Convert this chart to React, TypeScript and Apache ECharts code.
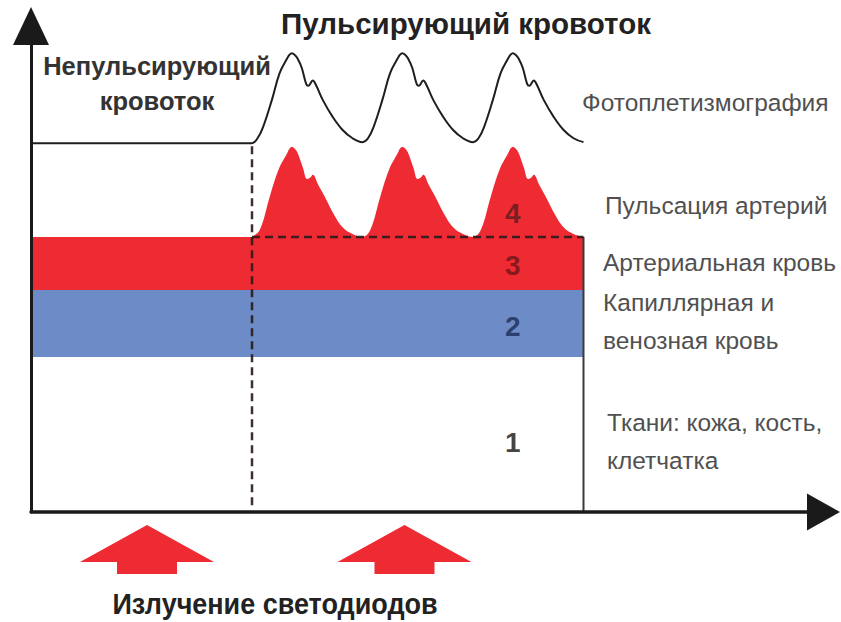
import React, { useEffect, useRef } from "react";
import * as echarts from "echarts";

// ---- coordinate frame (x: heart cycles from the y axis, y: relative absorption 0..100)
const X_MAX = 7.172;
const Y_MAX = 100;
const PULSE_START = 2;
const BOX_END = 5;

// photoplethysmogram (top black curve)
const ppgPoints: [number, number][] = [
  [0, 75.9], [2.0, 75.9],
  [2.05, 76.9], [2.10, 79.2], [2.18, 84.8], [2.25, 90.3], [2.32, 93.4], [2.34, 94.1], [2.36, 94.4], [2.385, 94.1], [2.41, 93.4], [2.45, 91.4],
  [2.49, 88.1], [2.51, 87.7], [2.55, 88.8], [2.58, 87.8], [2.64, 84.8], [2.73, 81.3], [2.82, 78.6], [2.91, 76.9], [3.0, 76.1],
  [3.05, 76.9], [3.10, 79.2], [3.18, 84.8], [3.25, 90.3], [3.32, 93.4], [3.34, 94.1], [3.36, 94.4], [3.385, 94.1], [3.41, 93.4], [3.45, 91.4],
  [3.49, 88.1], [3.51, 87.7], [3.55, 88.8], [3.58, 87.8], [3.64, 84.8], [3.73, 81.3], [3.82, 78.6], [3.91, 76.9], [4.0, 76.1],
  [4.05, 76.9], [4.10, 79.2], [4.18, 84.8], [4.25, 90.3], [4.32, 93.4], [4.34, 94.1], [4.36, 94.4], [4.385, 94.1], [4.41, 93.4], [4.45, 91.4],
  [4.49, 88.1], [4.51, 87.7], [4.55, 88.8], [4.58, 87.8], [4.64, 84.8], [4.73, 81.3], [4.82, 78.6], [4.91, 76.9], [5.0, 76.1],
];

// arterial pulsation (red peaks, layer 4)
const pulsePoints: [number, number][] = [
  [2.0, 56.6], [2.07, 58.0], [2.16, 64.8], [2.24, 70.4], [2.32, 73.9], [2.34, 74.8], [2.36, 75.1], [2.385, 74.8], [2.41, 74.0], [2.46, 70.9],
  [2.50, 68.5], [2.53, 68.9], [2.55, 69.4], [2.60, 67.3], [2.66, 64.8], [2.73, 61.7], [2.82, 58.6], [2.91, 57.2], [3.0, 56.6],
  [3.07, 58.0], [3.16, 64.8], [3.24, 70.4], [3.32, 73.9], [3.34, 74.8], [3.36, 75.1], [3.385, 74.8], [3.41, 74.0], [3.46, 70.9],
  [3.50, 68.5], [3.53, 68.9], [3.55, 69.4], [3.60, 67.3], [3.66, 64.8], [3.73, 61.7], [3.82, 58.6], [3.91, 57.2], [4.0, 56.6],
  [4.07, 58.0], [4.16, 64.8], [4.24, 70.4], [4.32, 73.9], [4.34, 74.8], [4.36, 75.1], [4.385, 74.8], [4.41, 74.0], [4.46, 70.9],
  [4.50, 68.5], [4.53, 68.9], [4.55, 69.4], [4.60, 67.3], [4.66, 64.8], [4.73, 61.7], [4.82, 58.6], [4.91, 57.2], [5.0, 56.6],
];

// static layers: tissue, capillary+venous blood, arterial blood
const bandNames = ["Ткани", "Капиллярная и венозная кровь", "Артериальная кровь"];
const bandBottom = [0, 31.9, 45.7];
const bandTop = [31.9, 45.7, 56.6];
const bandColors = ["#ffffff", "#6d8cc7", "#ee2b33"];

// layer numbers
const layerTags = ["1", "2", "3", "4"];
const layerTagX = [4.36, 4.36, 4.36, 4.36];
const layerTagY = [14.2, 38.1, 50.8, 61.5];
const layerTagColors = ["#111111", "#1b2b58", "#6a1416", "#5a1c1c"];

// LED emitters (arrows under the time axis)
const emitterX = [1.05, 3.38];

const FONT = "'Liberation Sans', Arial, 'DejaVu Sans', sans-serif";

export default function App() {
  const ref = useRef<HTMLDivElement>(null);

  useEffect(() => {
    if (!ref.current) return;
    const chart = echarts.init(ref.current, undefined, { renderer: "svg" });

    const dashStyle = { color: "#2a1a1a", width: 2.5, type: [8, 5] as number[], opacity: 0.9 };

    const text = (t: string, x: number, y: number, size: number, weight: string, fill: string, align: string, scaleX = 1) => ({
      type: "text",
      x,
      y,
      scaleX,
      silent: true,
      z: 100,
      style: {
        text: t,
        fontSize: size,
        fontWeight: weight,
        fontFamily: FONT,
        fill,
        align,
        verticalAlign: "middle",
      },
    });

    chart.setOption({
      animation: false,
      backgroundColor: "#ffffff",
      grid: { left: 31, right: 17.5, top: 26, bottom: 110, containLabel: false },
      xAxis: {
        type: "value",
        min: 0,
        max: X_MAX,
        z: 10,
        axisLine: {
          show: true,
          onZero: true,
          symbol: ["none", "triangle"],
          symbolSize: [37, 33],
          lineStyle: { color: "#1a1a1a", width: 3.5 },
        },
        axisTick: { show: false },
        axisLabel: { show: false },
        splitLine: { show: false },
      },
      yAxis: {
        type: "value",
        min: 0,
        max: Y_MAX,
        z: 10,
        axisLine: {
          show: true,
          onZero: true,
          symbol: ["none", "triangle"],
          symbolSize: [36, 38],
          lineStyle: { color: "#1a1a1a", width: 3 },
        },
        axisTick: { show: false },
        axisLabel: { show: false },
        splitLine: { show: false },
      },
      series: [
        {
          name: "Пульсация артерий",
          type: "line",
          data: pulsePoints,
          smooth: 0.4,
          symbol: "none",
          lineStyle: { width: 0 },
          areaStyle: { color: "#ee2b33", opacity: 1 },
          z: 1,
        },
        {
          name: "layers",
          type: "custom",
          data: bandNames.map((n, i) => ({ name: n, value: [bandBottom[i], bandTop[i], i] })),
          renderItem: (params: any, api: any) => {
            const b = api.value(0);
            const t = api.value(1);
            const i = api.value(2);
            const p0 = api.coord([0, t]);
            const p1 = api.coord([BOX_END, b]);
            return {
              type: "rect",
              shape: { x: p0[0], y: p0[1], width: p1[0] - p0[0], height: p1[1] - p0[1] },
              style: { fill: bandColors[i] },
            };
          },
          z: 2,
        },
        {
          name: "Фотоплетизмография",
          type: "line",
          data: ppgPoints,
          smooth: 0.4,
          symbol: "none",
          lineStyle: { color: "#1e1e1e", width: 2 },
          z: 3,
        },
        {
          name: "box",
          type: "line",
          data: [[BOX_END, 0], [BOX_END, bandTop[2]]],
          symbol: "none",
          lineStyle: { color: "#3a3a3a", width: 2 },
          z: 4,
        },
        {
          name: "start",
          type: "line",
          data: [[PULSE_START, 1.4], [PULSE_START, ppgPoints[1][1]]],
          symbol: "none",
          lineStyle: dashStyle,
          z: 5,
        },
        {
          name: "level",
          type: "line",
          data: [[PULSE_START, bandTop[2]], [BOX_END, bandTop[2]]],
          symbol: "none",
          lineStyle: dashStyle,
          z: 5,
        },
        {
          name: "tags",
          type: "scatter",
          symbolSize: 0,
          itemStyle: { color: "transparent" },
          data: layerTags.map((t, i) => ({
            name: t,
            value: [layerTagX[i], layerTagY[i]],
            label: { color: layerTagColors[i] },
          })),
          label: {
            show: true,
            position: "inside",
            formatter: (p: any) => p.name,
            fontSize: 28,
            fontWeight: "bold",
            fontFamily: FONT,
            textBorderWidth: 0,
            textBorderColor: "transparent",
          },
          z: 6,
        },
        {
          name: "Излучение светодиодов",
          type: "custom",
          data: emitterX.map((x) => [x, 0]),
          clip: false,
          renderItem: (params: any, api: any) => {
            const p = api.coord([api.value(0), 0]);
            const cx = p[0];
            const y0 = p[1];
            return {
              type: "polygon",
              shape: {
                points: [
                  [cx, y0 + 13],
                  [cx + 67, y0 + 50],
                  [cx + 30, y0 + 50],
                  [cx + 30, y0 + 62],
                  [cx - 30, y0 + 62],
                  [cx - 30, y0 + 50],
                  [cx - 67, y0 + 50],
                ],
              },
              style: { fill: "#ee2b33" },
            };
          },
          z: 6,
        },
      ],
      graphic: [
        text("Пульсирующий кровоток", 466, 23, 29.5, "bold", "#222222", "center"),
        text("Непульсирующий", 157, 66, 25.5, "bold", "#333333", "center"),
        text("кровоток", 157, 101, 25.5, "bold", "#333333", "center"),
        text("Фотоплетизмография", 582, 102, 24.5, "normal", "#505050", "left"),
        text("Пульсация артерий", 605, 205, 24.5, "normal", "#505050", "left"),
        text("Артериальная кровь", 603, 262, 24.5, "normal", "#505050", "left"),
        text("Капиллярная и", 603, 302, 24.5, "normal", "#505050", "left"),
        text("венозная кровь", 603, 340, 24.5, "normal", "#505050", "left"),
        text("Ткани: кожа, кость,", 607, 422, 24.5, "normal", "#505050", "left"),
        text("клетчатка", 607, 460, 24.5, "normal", "#505050", "left"),
        text("Излучение светодиодов", 275, 603, 30, "bold", "#222222", "center", 0.9),
      ],
    });

    return () => chart.dispose();
  }, []);

  return (
    <div
      ref={ref}
      style={{ position: "fixed", left: 0, top: 0, width: 841, height: 622, background: "#fff" }}
    />
  );
}
